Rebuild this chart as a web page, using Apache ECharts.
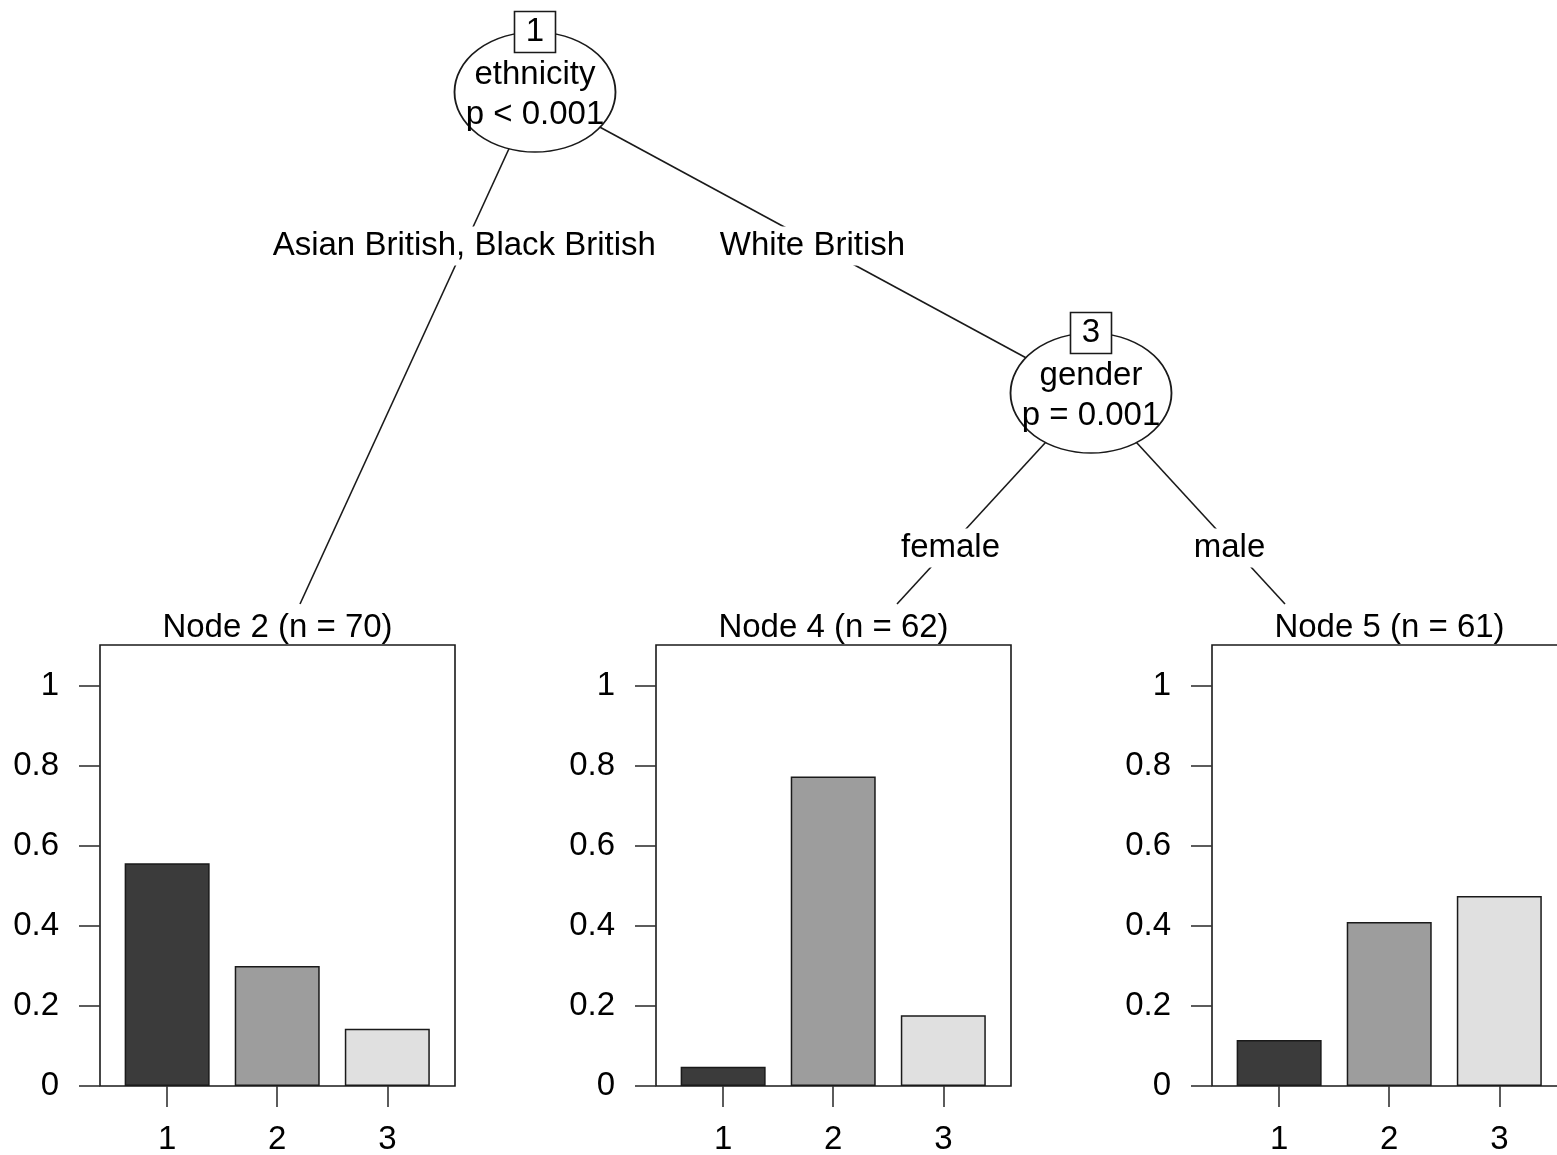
<!DOCTYPE html>
<html>
<head>
<meta charset="utf-8">
<script src="https://cdn.jsdelivr.net/npm/echarts@6/dist/echarts.min.js"></script>
<style>
  html, body { margin: 0; padding: 0; background: #fff; }
  #main { width: 1557px; height: 1155px; }
</style>
</head>
<body>
<div id="main"></div>
<script>
// ---- data ----
var classes = [1, 2, 3];
var node2Props = [0.557, 0.300, 0.143];
var node4Props = [0.048, 0.774, 0.177];
var node5Props = [0.115, 0.410, 0.475];
var nodeTitles = ['Node 2 (n = 70)', 'Node 4 (n = 62)', 'Node 5 (n = 61)'];
var yTicks = [0, 0.2, 0.4, 0.6, 0.8, 1];
var innerIds = ['1', '3'];
var innerVars = ['ethnicity', 'gender'];
var innerPvals = ['p < 0.001', 'p = 0.001'];
var edgeLabels = ['Asian British, Black British', 'White British', 'female', 'male'];

// ---- layout (tree drawn in a hidden pixel-like grid) ----
var W = 1557, H = 1155;
var FONT = "'Liberation Sans', Arial, Helvetica, sans-serif";
var FS = 33;
var ink = '#1a1a1a';
var txt = '#000';
var barColors = ['#3b3b3b', '#9d9d9d', '#e0e0e0'];
var innerPos = [[535, 92], [1091, 393]];
var terminalEnd = [[300, 604], [897, 604], [1285, 604]];
// edges: from inner node -> (inner node | terminal end), label height and small x nudge
var edges = [
  { from: 0, toInner: null, toTerm: 0, labelY: 246, dx: 0 },
  { from: 0, toInner: 1, toTerm: null, labelY: 246, dx: -7 },
  { from: 1, toInner: null, toTerm: 1, labelY: 548, dx: 2 },
  { from: 1, toInner: null, toTerm: 2, labelY: 548, dx: -4 }
];
var panelLeft = [100, 656, 1212];
var panelTop = 645, panelW = 355, panelH = 441;
var allProps = [node2Props, node4Props, node5Props];

var ellipsePath = 'path://M0,50 A50,50 0 1,0 100,50 A50,50 0 1,0 0,50 Z';

var grids = [{ left: 0, top: 0, width: W, height: H, show: false, outerBoundsMode: 'none' }];
var xAxes = [{ gridIndex: 0, type: 'value', min: 0, max: W, show: false }];
var yAxes = [{ gridIndex: 0, type: 'value', min: 0, max: H, inverse: true, show: false }];
var series = [];

// edges
var edgeLines = [];
var edgeLabelPts = [];
edges.forEach(function (e, i) {
  var a = innerPos[e.from];
  var b = e.toInner !== null ? innerPos[e.toInner] : terminalEnd[e.toTerm];
  edgeLines.push({ coords: [a, b] });
  var t = (e.labelY - a[1]) / (b[1] - a[1]);
  edgeLabelPts.push({ value: [a[0] + t * (b[0] - a[0]) + e.dx, e.labelY], name: edgeLabels[i] });
});

series.push({
  type: 'lines', coordinateSystem: 'cartesian2d', xAxisIndex: 0, yAxisIndex: 0,
  z: 1, silent: true,
  lineStyle: { color: ink, width: 1.6, opacity: 1 },
  data: edgeLines
});

// inner node ellipses
series.push({
  type: 'scatter', xAxisIndex: 0, yAxisIndex: 0, z: 2, silent: true,
  symbol: ellipsePath, symbolSize: [161, 120],
  itemStyle: { color: '#fff', borderColor: ink, borderWidth: 1.6, opacity: 1 },
  label: {
    show: true, position: 'inside', offset: [0, 3],
    fontFamily: FONT, fontSize: FS, lineHeight: 40, color: txt,
    formatter: function (p) { return innerVars[p.dataIndex] + '\n' + innerPvals[p.dataIndex]; }
  },
  data: innerPos.map(function (p) { return p.slice(); })
});

// node id boxes (sit on top of each ellipse)
series.push({
  type: 'scatter', xAxisIndex: 0, yAxisIndex: 0, z: 3, silent: true,
  symbol: 'rect', symbolSize: [41, 41],
  itemStyle: { color: '#fff', borderColor: ink, borderWidth: 1.6, opacity: 1 },
  label: {
    show: true, position: 'inside',
    fontFamily: FONT, fontSize: FS, color: txt,
    formatter: function (p) { return innerIds[p.dataIndex]; }
  },
  data: innerPos.map(function (p) { return [p[0], p[1] - 60]; })
});

// edge labels
series.push({
  type: 'scatter', xAxisIndex: 0, yAxisIndex: 0, z: 3, silent: true,
  symbolSize: 0, itemStyle: { opacity: 1 },
  label: {
    show: true, position: 'inside', formatter: '{b}',
    fontFamily: FONT, fontSize: FS, color: txt,
    backgroundColor: '#fff', padding: [3, 4]
  },
  data: edgeLabelPts
});

// terminal titles
series.push({
  type: 'scatter', xAxisIndex: 0, yAxisIndex: 0, z: 3, silent: true,
  symbolSize: 0, itemStyle: { opacity: 1 },
  label: {
    show: true, position: 'inside', formatter: '{b}',
    fontFamily: FONT, fontSize: FS, color: txt
  },
  data: panelLeft.map(function (l, i) {
    return { value: [l + panelW / 2, 628], name: nodeTitles[i] };
  })
});

// terminal bar panels
panelLeft.forEach(function (left, k) {
  var gi = k + 1;
  grids.push({
    left: left, top: panelTop, width: panelW, height: panelH, outerBoundsMode: 'none',
    show: true, borderColor: ink, borderWidth: 1.6, backgroundColor: 'transparent'
  });
  xAxes.push({
    gridIndex: gi, type: 'value', min: 0.39, max: 3.615,
    axisLine: { show: false }, splitLine: { show: false },
    axisTick: { show: true, length: 21, customValues: classes, lineStyle: { color: '#333', width: 1.6 } },
    axisLabel: { customValues: classes, margin: 37, fontFamily: FONT, fontSize: FS, color: txt }
  });
  yAxes.push({
    gridIndex: gi, type: 'value', min: 0, max: panelH / 400,
    axisLine: { show: false }, splitLine: { show: false },
    axisTick: { show: true, length: 21, customValues: yTicks, lineStyle: { color: '#333', width: 1.6 } },
    axisLabel: { customValues: yTicks, margin: 41, fontFamily: FONT, fontSize: FS, color: txt }
  });
  series.push({
    type: 'bar', xAxisIndex: gi, yAxisIndex: gi, barWidth: 85, silent: true,
    itemStyle: { borderColor: ink, borderWidth: 1.5 },
    data: classes.map(function (c, j) {
      return { value: [c, allProps[k][j]], itemStyle: { color: barColors[j] } };
    })
  });
});

var chart = echarts.init(document.getElementById('main'), null, { renderer: 'canvas' });
chart.setOption({
  backgroundColor: '#fff',
  animation: false,
  grid: grids,
  xAxis: xAxes,
  yAxis: yAxes,
  series: series
});
</script>
</body>
</html>
